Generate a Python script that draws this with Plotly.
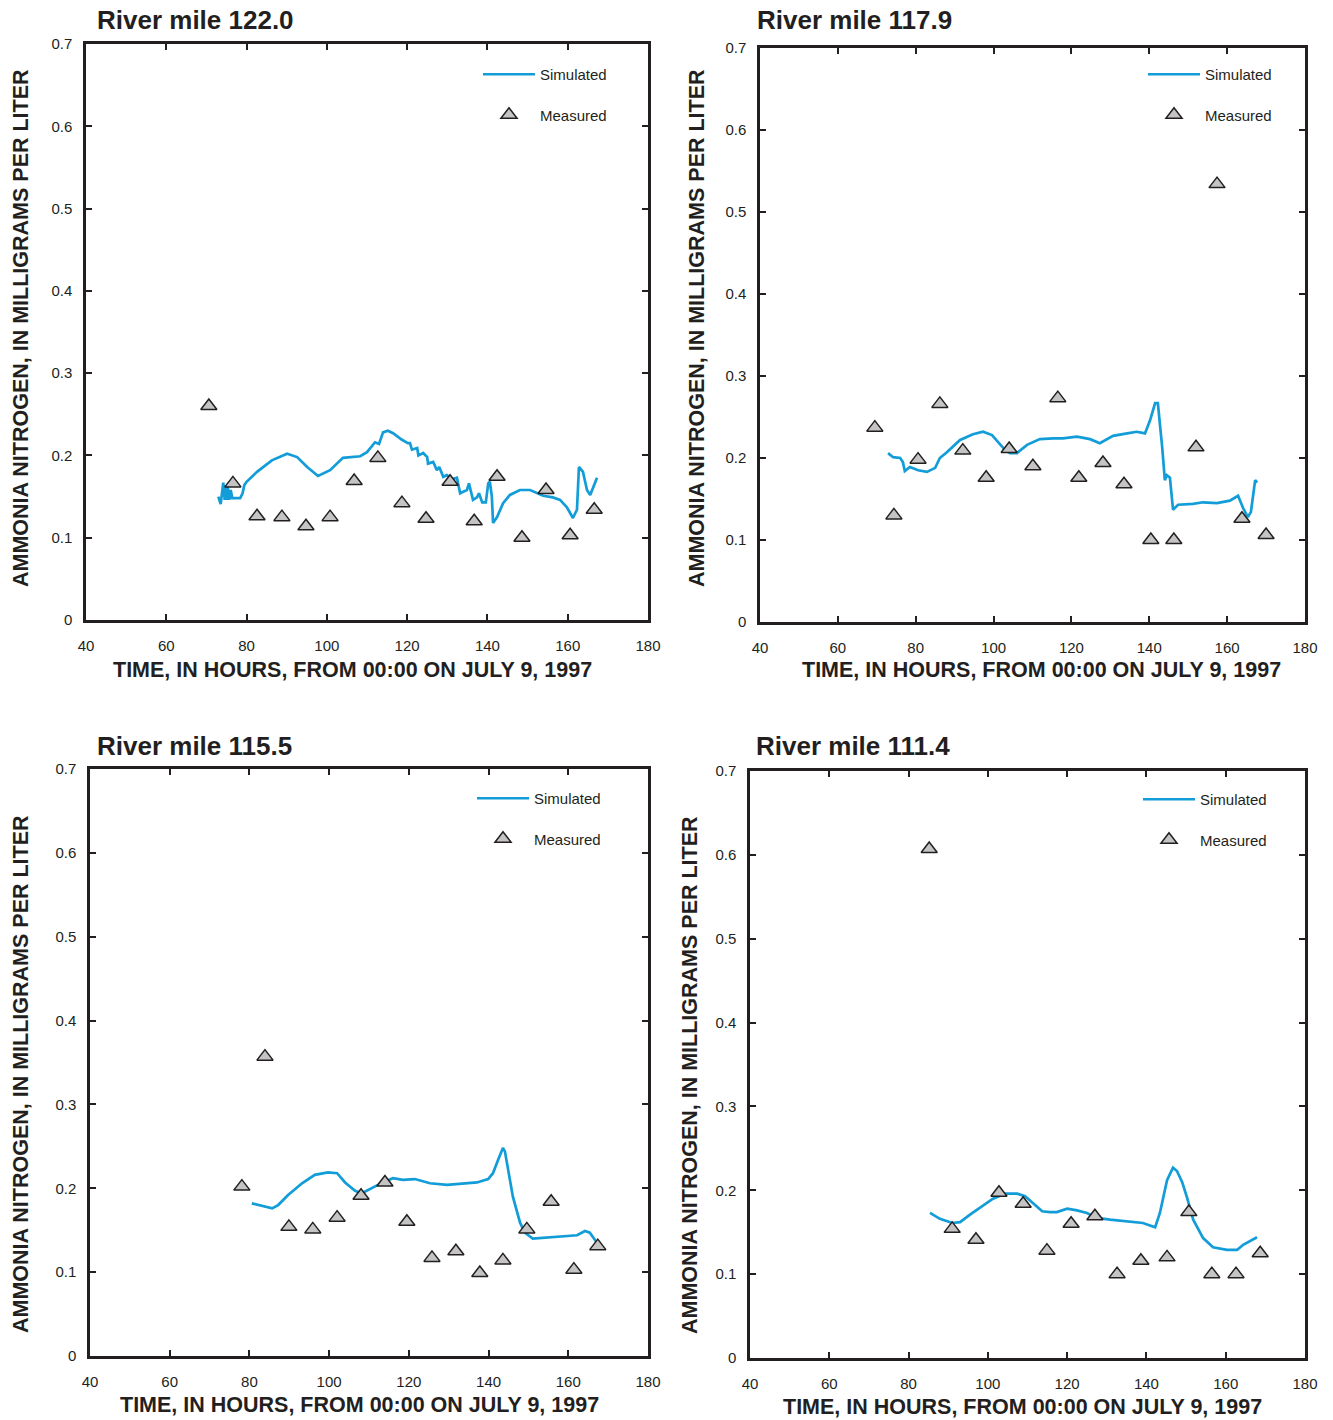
import plotly.graph_objects as go

W, H = 1333, 1420
FONT = "Liberation Sans"
INK = "#231f20"
LINE_COLOR = "#129dd8"
MARK_FILL = "#c4c4c4"

# ---------------- data ----------------
titles = ["River mile 122.0", "River mile 117.9", "River mile 115.5", "River mile 111.4"]

# River mile 122.0
sim1_t = [72.96, 73.55, 74.2, 74.55, 74.8, 75.05, 75.3, 75.7, 76.05, 76.45, 77.1, 78.4, 79.0, 79.45, 80.0,
          82.6, 86.3, 90.1, 92.6, 95.1, 97.8, 100.8, 104.0, 108.3, 110.0, 112.0, 113.0, 114.0, 115.2, 116.5,
          118.7, 120.2, 120.7, 121.2, 122.5, 122.8, 124.0, 125.0, 125.2, 126.5, 127.4, 128.0, 129.0, 129.9,
          131.2, 132.4, 133.2, 134.9, 135.4, 136.4, 137.4, 137.9, 138.7, 139.6, 140.2, 140.6, 141.1, 141.4,
          142.4, 143.9, 145.6, 148.1, 150.6, 152.6, 153.9, 156.3, 158.1, 159.8, 161.3, 162.3, 162.8, 163.8,
          164.8, 165.6, 166.3, 167.3]
sim1_v = [0.150, 0.141, 0.167, 0.146, 0.164, 0.146, 0.162, 0.146, 0.158, 0.148, 0.148, 0.148, 0.154, 0.164, 0.168,
          0.180, 0.194, 0.202, 0.198, 0.186, 0.175, 0.182, 0.197, 0.199, 0.204, 0.216, 0.214, 0.228, 0.230, 0.227,
          0.219, 0.215, 0.215, 0.207, 0.209, 0.200, 0.203, 0.198, 0.190, 0.192, 0.182, 0.186, 0.174, 0.176,
          0.171, 0.173, 0.154, 0.158, 0.166, 0.146, 0.149, 0.154, 0.143, 0.143, 0.166, 0.168, 0.150, 0.118,
          0.125, 0.142, 0.152, 0.158, 0.158, 0.154, 0.151, 0.149, 0.146, 0.137, 0.124, 0.134, 0.186, 0.180,
          0.158, 0.152, 0.160, 0.173]
meas1_t = [70.6, 76.6, 82.6, 88.8, 94.8, 100.8, 106.8, 112.7, 118.7, 124.7, 130.7, 136.7, 142.4, 148.6, 154.6, 160.6, 166.6]
meas1_v = [0.260, 0.166, 0.126, 0.125, 0.114, 0.125, 0.169, 0.197, 0.142, 0.123, 0.168, 0.120, 0.174, 0.100, 0.158, 0.103, 0.134]

# River mile 117.9
sim2_t = [72.9, 74.2, 76.0, 76.7, 77.2, 78.5, 80.6, 82.9, 85.0, 86.2, 88.0, 91.4, 94.7, 97.3, 99.6, 101.1,
          102.9, 104.2, 106.0, 108.6, 111.9, 115.3, 117.8, 121.4, 124.8, 127.3, 130.7, 134.3, 136.8, 138.9,
          140.2, 141.5, 142.2, 143.3, 144.0, 144.5, 145.3, 146.1, 147.4, 151.2, 153.8, 157.4, 160.7, 162.8,
          164.1, 165.3, 166.1, 167.2, 167.7]
sim2_v = [0.206, 0.201, 0.200, 0.195, 0.184, 0.189, 0.185, 0.183, 0.188, 0.200, 0.207, 0.222, 0.229, 0.232, 0.228, 0.220,
          0.210, 0.206, 0.206, 0.216, 0.223, 0.224, 0.224, 0.226, 0.223, 0.218, 0.227, 0.230, 0.232, 0.230,
          0.246, 0.267, 0.267, 0.214, 0.173, 0.179, 0.176, 0.137, 0.143, 0.144, 0.146, 0.145, 0.148, 0.154,
          0.139, 0.128, 0.134, 0.173, 0.170]
meas2_t = [69.5, 74.4, 80.6, 86.2, 92.1, 98.1, 104.0, 110.1, 116.5, 121.9, 128.1, 133.5, 140.4, 146.3, 152.0, 157.4, 163.8, 170.0]
meas2_v = [0.237, 0.130, 0.198, 0.266, 0.209, 0.176, 0.211, 0.190, 0.273, 0.176, 0.194, 0.168, 0.100, 0.100, 0.213, 0.534, 0.126, 0.106]

# River mile 115.5
sim3_t = [80.6, 83.2, 85.7, 87.2, 89.7, 93.2, 96.4, 99.7, 102.0, 104.0, 106.5, 108.2, 110.2, 113.5, 116.0,
          118.5, 121.5, 125.3, 129.6, 133.6, 137.1, 139.9, 141.1, 142.4, 143.6, 144.1, 144.9, 146.1, 147.9,
          149.1, 151.1, 154.6, 158.7, 162.2, 164.2, 165.4, 167.2]
sim3_v = [0.182, 0.179, 0.176, 0.180, 0.192, 0.206, 0.216, 0.219, 0.218, 0.207, 0.197, 0.194, 0.199, 0.207, 0.212,
          0.210, 0.211, 0.206, 0.204, 0.206, 0.207, 0.211, 0.218, 0.234, 0.248, 0.244, 0.222, 0.190, 0.159,
          0.147, 0.140, 0.141, 0.143, 0.144, 0.149, 0.147, 0.135]
meas3_t = [78.1, 83.9, 89.9, 95.9, 102.0, 108.0, 114.0, 119.5, 125.8, 131.8, 137.8, 143.6, 149.6, 155.7, 161.4, 167.4]
meas3_v = [0.202, 0.357, 0.154, 0.151, 0.165, 0.191, 0.207, 0.160, 0.117, 0.125, 0.099, 0.114, 0.151, 0.184, 0.103, 0.131]

# River mile 111.4
sim4_t = [85.4, 87.9, 91.0, 93.0, 95.5, 98.0, 101.3, 104.3, 107.4, 109.4, 111.1, 113.7, 115.7, 117.4, 120.0,
          122.5, 125.0, 127.5, 130.8, 135.1, 139.1, 142.2, 143.4, 145.2, 146.7, 147.7, 149.0, 150.2, 151.8,
          154.3, 156.8, 160.3, 162.9, 164.4, 167.9]
sim4_v = [0.173, 0.166, 0.161, 0.162, 0.171, 0.179, 0.190, 0.196, 0.196, 0.193, 0.186, 0.175, 0.174, 0.174, 0.178,
          0.176, 0.173, 0.167, 0.165, 0.163, 0.161, 0.156, 0.173, 0.212, 0.227, 0.223, 0.210, 0.192, 0.165,
          0.143, 0.132, 0.129, 0.129, 0.135, 0.144]
meas4_t = [85.2, 91.0, 97.0, 102.8, 108.9, 114.9, 121.0, 127.0, 132.6, 138.6, 145.2, 150.7, 156.5, 162.6, 168.7]
meas4_v = [0.607, 0.154, 0.141, 0.197, 0.184, 0.128, 0.160, 0.169, 0.100, 0.116, 0.120, 0.174, 0.100, 0.100, 0.125]

x_ticks = [40, 60, 80, 100, 120, 140, 160, 180]
y_ticks = [0, 0.1, 0.2, 0.3, 0.4, 0.5, 0.6, 0.7]
y_ticktext = ["0", "0.1", "0.2", "0.3", "0.4", "0.5", "0.6", "0.7"]

x_title = "TIME, IN HOURS, FROM 00:00 ON JULY 9, 1997"
y_title = "AMMONIA NITROGEN, IN MILLIGRAMS PER LITER"

sims = [(sim1_t, sim1_v), (sim2_t, sim2_v), (sim3_t, sim3_v), (sim4_t, sim4_v)]
meas = [(meas1_t, meas1_v), (meas2_t, meas2_v), (meas3_t, meas3_v), (meas4_t, meas4_v)]

# ---------------- layout helpers (pixel geometry) ----------------
def fx(px):
    return px / W

def fy(py):
    return 1 - py / H

# plot-area pixel boxes: (left, right, top, bottom)
boxes = [(86, 648, 44, 620), (760, 1305, 48, 622), (90, 648, 769, 1356), (750, 1305, 771, 1358)]
title_pos = [(95, 20), (755, 20), (95, 746), (754, 746)]
ytitle_pos = [(21, 328), (697, 328), (21, 1074), (690, 1075)]
xtitle_pos = [(352, 670), (1041, 670), (359, 1405), (1022, 1407)]
legend_pos = [(478, 58), (1143, 58), (472, 782), (1138, 783)]

fig = go.Figure()

axis_common = dict(
    showline=True, linecolor=INK, linewidth=2.5, mirror="ticks",
    ticks="inside", ticklen=6, tickwidth=2, tickcolor=INK,
    showgrid=False, zeroline=False, automargin=False,
    tickfont=dict(family=FONT, size=15, color=INK),
)

annotations = []
for i in range(4):
    k = "" if i == 0 else str(i + 1)
    xa, ya = "x" + k, "y" + k
    leg = "legend" + k
    st, sv = sims[i]
    mt, mv = meas[i]
    fig.add_trace(go.Scatter(
        x=st, y=sv, mode="lines", name="Simulated",
        line=dict(color=LINE_COLOR, width=2.7),
        xaxis=xa, yaxis=ya, legend=leg, legendgroup="sim" + k,
    ))
    fig.add_trace(go.Scatter(
        x=mt, y=mv, mode="markers", name="Measured",
        marker=dict(symbol="triangle-up", size=14, color=MARK_FILL, line=dict(color=INK, width=1.5)),
        xaxis=xa, yaxis=ya, legend=leg, legendgroup="meas" + k,
    ))
    l, r, t, b = boxes[i]
    fig.layout["xaxis" + k] = dict(
        axis_common, domain=[fx(l), fx(r)], range=[40, 180], tickvals=x_ticks,
        anchor=ya, ticklabelstandoff=10,
    )
    fig.layout["yaxis" + k] = dict(
        axis_common, domain=[fy(b), fy(t)], range=[0, 0.7], tickvals=y_ticks,
        ticktext=y_ticktext, anchor=xa, ticklabelstandoff=8,
    )
    lx, ly = legend_pos[i]
    fig.layout[leg] = dict(
        x=fx(lx), y=fy(ly), xanchor="left", yanchor="top",
        bgcolor="rgba(0,0,0,0)", borderwidth=0,
        font=dict(family=FONT, size=15, color=INK),
        traceorder="grouped", tracegroupgap=18, itemwidth=52,
    )
    tx, ty = title_pos[i]
    annotations.append(dict(
        text="<b>%s</b>" % titles[i], x=fx(tx), y=fy(ty), xref="paper", yref="paper",
        xanchor="left", yanchor="middle", showarrow=False,
        font=dict(family=FONT, size=26, color=INK),
    ))
    yx, yy = ytitle_pos[i]
    annotations.append(dict(
        text="<b>%s</b>" % y_title, x=fx(yx), y=fy(yy), xref="paper", yref="paper",
        xanchor="center", yanchor="middle", showarrow=False, textangle=-90,
        font=dict(family=FONT, size=21.5, color=INK),
    ))
    xx, xy = xtitle_pos[i]
    annotations.append(dict(
        text="<b>%s</b>" % x_title, x=fx(xx), y=fy(xy), xref="paper", yref="paper",
        xanchor="center", yanchor="middle", showarrow=False,
        font=dict(family=FONT, size=21.5, color=INK),
    ))

fig.update_layout(
    width=W, height=H, autosize=False,
    margin=dict(l=0, r=0, t=0, b=0),
    paper_bgcolor="white", plot_bgcolor="white",
    annotations=annotations,
    showlegend=True,
)

fig.write_html(
    "out.html",
    config={"displayModeBar": False},
    post_script="document.body.style.margin='0px'; document.body.style.overflow='hidden';",
)
